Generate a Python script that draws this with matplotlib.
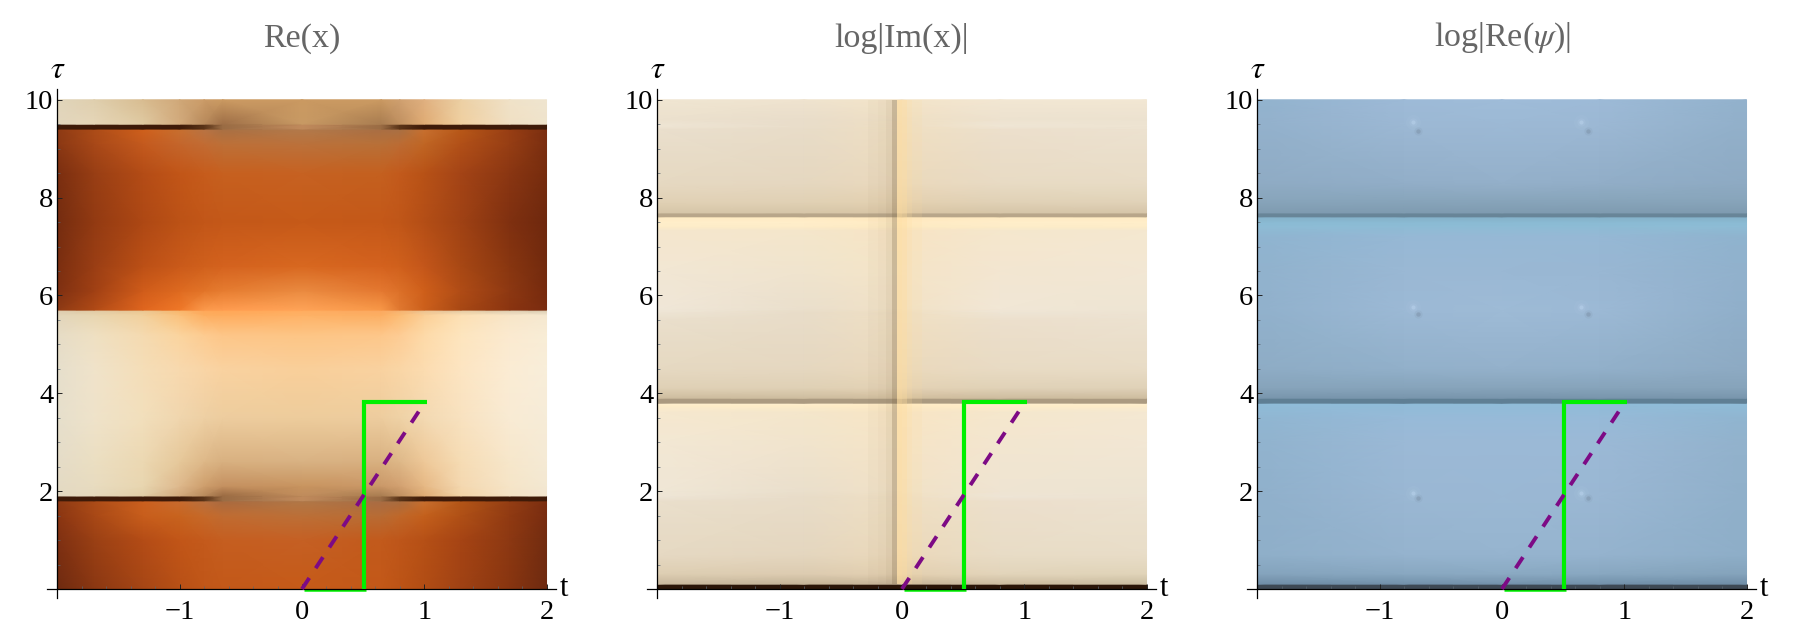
import numpy as np
import matplotlib
matplotlib.use('Agg')
from matplotlib import pyplot as plt
from matplotlib.colors import to_rgb, to_rgba

plt.rcParams['font.family'] = ['Liberation Serif', 'DejaVu Serif']
plt.rcParams['mathtext.fontset'] = 'stix'

titles = ['Re(x)', 'log|Im(x)|', r'log|Re($\psi$)|']
x_ticks = [-1, 0, 1, 2]
y_ticks = [2, 4, 6, 8, 10]

# path lines
green_t = [0.505, 0.505, 1.02]
green_tau = [0.0, 3.82, 3.82]
green_leg_t = [0.02, 0.52]
green_leg_tau = [-0.03, -0.03]
purple_t = [0.0, 1.0]
purple_tau = [0.0, 3.8]

# Re(x): colours, rows are tau, columns are t
re_x_t = [-2, -1.7, -1.3, -1, -0.8, -0.65, 0, 0.65, 0.8, 1, 1.3, 1.7, 2]
re_x_tau = [0, 1.0, 1.5, 1.795, 1.805, 1.895, 1.905, 2.1, 2.6, 3.5, 4.5, 5.2, 5.6, 5.695,
            5.705, 6.1, 6.6, 7.5, 8.5, 9.1, 9.395, 9.405, 9.495, 9.505, 10]
re_x_rows = [
    '6e2a10 8a3712 a64615 b85016 c05618 c35818 c65b18 c35818 bd5416 b24d14 a04214 883510 6e2a10',
    '7e3012 9a4014 b44c16 c25618 c45a1c c55e20 c56024 c25a1c be561a b65016 a64414 8c3812 722c10',
    '8a3512 a84816 c85e1c c8641f c66a2a c06c32 bc7038 b86c34 c0682a c4601c b05016 903a12 782c10',
    '8d3a14 ac4c18 cc601f c86c30 b87040 a86a40 b07848 a86c44 a86c40 c87030 b45618 943e14 7a2e10',
    '3e1a08 3e1a08 3e1a08 3e1a08 5a3418 9a6c44 c08a5c 9a6c44 5a3418 3e1a08 3e1a08 3e1a08 3e1a08',
    '3e1a08 3e1a08 3e1a08 3e1a08 5a3418 9a6c44 c08a5c 9a6c44 5a3418 3e1a08 3e1a08 3e1a08 3e1a08',
    'e4d9c2 e6d8bc e2cda6 d2a97c b88a5c 9a6a42 c08c5c a87c50 c09060 e0ac74 f3d4a6 f5e3c5 f3e6cf',
    'e4dac4 e8dcc0 e8d6b0 deb88c ce9e6c c49060 c8945f ca9868 d2a070 e6b884 f4d8b0 f6e5c8 f3e8d2',
    'e5dcc8 ebdfc2 ecd8b2 e6c89a deb888 d8b080 d8b283 d8b080 deb888 eec898 f6dcb4 f7e7cb f5ead5',
    'e6dfcc efe3ca f2dfbc f0d6ae eed0a4 edcd9f edcc9c edcd9f efd2a6 f3d9b2 f8e2c0 f9ebd4 f6ecd8',
    'e6dfcc f0e3ca f5deb8 f8d9ae f9d5a6 f9d2a0 f9cf9a f9d2a0 fad6a6 fcdcb0 fde5c2 fbecd4 f8eeda',
    'e6dcc6 efe0c2 f5dab0 fbd49e fdcb90 fdc688 fdc585 fdc78a fdcc94 fddaa8 fde5be fbead0 f8edd6',
    'e2d5ba e8d6b0 f2d09c fbc07a fdae60 feac5e feb266 fcae62 fcbc74 fbcf96 fde0b4 f8e6c8 f5e8d0',
    'dccaac dfc8a2 e8c490 f8b46a fea658 ffa656 ffac5e fca860 f4b070 e8c090 e0c6a0 d8c8ac d6c8ae',
    '8d3a14 b04a16 e0661f f07828 fc9a4c ff9c50 ffa458 f89848 e07830 cc601c a84814 8a3410 7a2c10',
    '7e3012 a04014 d05c1a de6a20 e27428 e67c30 ea8a40 e47830 dc7028 cf5f1a b04c16 8d3812 762a0e',
    '7a2e10 9a3e14 bc5016 ca5a1a d0601c d4621e d86820 d4621e d0601c c4561a a84814 883610 722a0e',
    '742c10 923a12 ae4814 bc5216 c25618 c45818 c65a18 c45818 c05618 b44e16 a04214 7f3010 6e280e',
    '7a2e10 983e14 b44c16 c25618 c65c1c c6601f c66222 c4601f c25a1c b85216 a44416 8a3612 762c0e',
    '8a3814 a84818 c45a1e c4662c c26c34 bd7038 bb723c b87038 bc6c34 c06624 b25018 963e14 7a2e10',
    '8d3a14 ac4c18 d0601c c87030 b87444 a87044 b27a4c a86e44 a87044 c87030 b85818 983e14 7a2e10',
    '3e1a08 3e1a08 3e1a08 3e1a08 5a3418 9a6c44 c08a5c 9a6c44 5a3418 3e1a08 3e1a08 3e1a08 3e1a08',
    '3e1a08 3e1a08 3e1a08 3e1a08 5a3418 9a6c44 c08a5c 9a6c44 5a3418 3e1a08 3e1a08 3e1a08 3e1a08',
    'e3d7be e6d6b8 e0caa2 d2aa7c b88a5c 9e6e46 c89a64 a87c50 c09060 e0ac74 f0d0a0 f0e0c4 efe4cc',
    'e0d5bb dfcfae d8bc90 d0a878 cc9c68 cb9a62 cb9a62 cb9a62 cfa070 e0b080 ecd0a4 f0e2c8 efe5d0',
]

# log|Im(x)|
im_x_t = [-2, -0.8, 0, 0.8, 2]
im_x_tau = [0, 0.098, 0.102, 0.3, 0.7, 1.8, 1.88, 2.0, 3.0, 3.62, 3.75, 3.798, 3.802, 3.898, 3.902,
            4.1, 4.5, 5.5, 5.65, 5.72, 6.5, 7.33, 7.4, 7.5, 7.605, 7.61, 7.68, 7.69, 7.9, 8.3, 9.4,
            9.46, 9.6, 10]
im_x_rows = [
    '2a1508 2a1508 2a1508 2a1508 2a1508',
    '2a1508 2a1508 2a1508 2a1508 2a1508',
    'c8b89e c4b498 c8b69a ccbca0 cabca0',
    'ddceb2 dccbb0 e4d0b0 e2d4ba e0d3b8',
    'e6d9c3 e4d6bf ecd9ba e8dcc6 e8ddc8',
    'eadfcc e8dcc8 f0dfc2 ecdfcc ece2d0',
    'eee5d6 e8dcc8 f0dfc2 eee5d6 ede3d2',
    'f0e7d6 eadfcc f2e2c6 efe4d2 ede4d2',
    'f3e8d4 f1e4cd f6e4c6 f3e6d0 f2e7d4',
    'f6e8cf f4e6cb f9e5c4 f5e7cd f4e8d2',
    'feedc9 feedc8 ffebc4 ffedc8 feedca',
    'fff0d0 fff0d0 ffedc8 fff0d0 fff0d0',
    'ab9a80 ab9a80 ab9a80 ab9a80 ab9a80',
    'ab9a80 ab9a80 ab9a80 ab9a80 ab9a80',
    'cdbc9e cdbc9e d2bf9e cdbc9e cdbc9e',
    'dfd0b5 dfd0b5 e4d2b4 e0d1b7 dfd1b7',
    'e6d9c2 e5d7c0 ebd9bc e8dbc4 e8dcc6',
    'eadfcc e8dcc8 f0dfc2 ecdfcc ece2d0',
    'eee5d5 e8dcc8 f0dfc2 eee5d5 ede3d2',
    'f0e7d8 eadfcc f2e2c6 f1e7d6 eee5d3',
    'f2e7d4 f0e4ce f5e4c7 f3e6d1 f2e7d4',
    'f4e6ce f4e6cb f8e4c4 f5e7cd f4e8d0',
    'fdecc8 fdecc8 fdeac2 fdecc8 fdecc8',
    'ffeeca ffeeca ffebc4 ffeeca ffeeca',
    'ffebc2 ffebc2 ffe8be ffebc2 ffebc2',
    'b8a68a b8a68a b8a68a b8a68a b8a68a',
    'b8a68a b8a68a b8a68a b8a68a b8a68a',
    'd6c5a8 d6c5a8 dac6a6 d6c5a8 d6c5a8',
    'e0d0b4 e0d0b4 e4d0b0 e0d1b6 e0d2b8',
    'e6d9c2 e5d7c0 ebd9bc e8dbc4 e8dcc6',
    'eadfcd e8dcc8 f0dfc2 ecdfcc ece2d0',
    'efe6d5 e9ddca f0dfc2 efe6d5 eee4d2',
    'ece1ce e9ddca f0e0c4 ede2cf ece2d0',
    'f0e6d2 efe3cf f4e4c8 f2e7d3 f2e7d3',
]
# vertical stripe laid over log|Im(x)|, flat cells between the edges
stripe_edges = [-0.28, -0.2, -0.13, -0.085, -0.038, 0.0, 0.04, 0.08, 0.16]
stripe_colors = ['#806a48', '#806a48', '#806a48', '#806a48', '#ffdc9c', '#ffdc9c', '#ffdc9c', '#ffdc9c']
stripe_alpha = [0.03, 0.06, 0.12, 0.36, 0.6, 0.5, 0.28, 0.12]

# log|Re(psi)|
re_psi_t = [-2, -0.8, 0, 0.8, 2]
re_psi_tau = [0, 0.098, 0.102, 0.3, 0.7, 1.9, 3.0, 3.5, 3.78, 3.798, 3.802, 3.898, 3.902, 4.1, 4.5,
              5.7, 6.5, 7.2, 7.42, 7.5, 7.605, 7.61, 7.68, 7.69, 7.95, 8.3, 9.5, 10]
re_psi_rows = [
    '3e4954 3e4954 3e4954 3e4954 3e4954',
    '3e4954 3e4954 3e4954 3e4954 3e4954',
    '6f8da6 7290a9 7391aa 7290a9 6f8da6',
    '84a3bc 88a7c0 8aa9c2 88a7c0 84a3bb',
    '8fafc9 95b3ce 96b4cf 95b3ce 8eaec8',
    '90b0cb 9ab7d3 9ab8d4 9ab7d3 90b0ca',
    '91b3ce 9bb9d6 9bb9d6 9bb9d6 92b2cc',
    '90b6d2 97bad8 97bad8 97bad8 90b5d0',
    '8fbcd8 90bcd8 90bcd8 90bcd8 8fbcd8',
    '8ebcd8 8ebcd8 8ebcd8 8ebcd8 8ebcd8',
    '5f7f94 5f7f94 5f7f94 5f7f94 5f7f94',
    '5f7f94 5f7f94 5f7f94 5f7f94 5f7f94',
    '7895ac 7895ac 7895ac 7895ac 7895ac',
    '86a3ba 86a3ba 86a3ba 86a3ba 86a3ba',
    '8eacc5 92b0ca 94b1cb 92b0ca 8daac3',
    '91b1cc 9cb9d5 9ebbd6 9cb9d5 90afca',
    '91b2cd 9ab8d4 9ab8d4 99b7d3 91b1cc',
    '8fb4d0 96b8d5 96b8d5 96b8d5 8fb3ce',
    '8dbcd5 8dbcd5 8dbcd5 8dbcd5 8dbcd5',
    '8abad3 8abad3 8abad3 8abad3 8abad3',
    '84b0c8 84b0c8 84b0c8 84b0c8 84b0c8',
    '688598 688598 688598 688598 688598',
    '688598 688598 688598 688598 688598',
    '7f9bb0 7f9bb0 7f9bb0 7f9bb0 7f9bb0',
    '88a5bb 88a5bb 88a5bb 88a5bb 88a5bb',
    '8fabc4 92aec8 94b0ca 92aec8 8eaac3',
    '93b1cc 9cb8d4 9cb9d5 9cb8d4 92b0ca',
    '92b3ce 9dbad7 9fbcd9 9dbad7 92b1cc',
]
# small light / dark dimples in log|Re(psi)|
light_t = [-0.73, 0.65, -0.73, 0.65, -0.73, 0.65]
light_tau = [1.96, 1.96, 5.77, 5.77, 9.55, 9.55]
dark_t = [-0.69, 0.70, -0.69, 0.70, -0.69, 0.70]
dark_tau = [1.86, 1.86, 5.62, 5.62, 9.37, 9.37]

panel_lefts = [57.4, 657.4, 1257.4]
W, H = 1800, 643


def hex_grid(rows):
    return np.array([[to_rgb('#' + c) for c in r.split()] for r in rows])


def draw_axes(ax, title):
    ax.set_xlim(-2.088, 2.075)
    ax.set_ylim(-0.184, 10.22)
    ax.patch.set_visible(False)
    ax.spines['top'].set_visible(False)
    ax.spines['right'].set_visible(False)
    ax.spines['left'].set_position(('data', -2))
    ax.spines['bottom'].set_position(('data', 0))
    ax.spines['left'].set_linewidth(0.9)
    ax.spines['bottom'].set_linewidth(0.9)
    ax.set_xticks(x_ticks)
    ax.set_xticklabels(['\u2212' + str(abs(v)) if v < 0 else str(v) for v in x_ticks])
    ax.set_yticks(y_ticks)
    ax.set_xticks(np.arange(-1.8, 2.01, 0.2), minor=True)
    ax.set_yticks(np.arange(0.5, 10, 0.5), minor=True)
    ax.tick_params(which='major', direction='in', length=3.4, width=0.7, labelsize=20.5, pad=3, color='#222222')
    ax.tick_params(which='minor', direction='in', length=2, width=0.5, color='#5a6670')
    ax.tick_params(axis='x', which='major', pad=8)
    ax.text(-2, 10.6, r'$\tau$', ha='center', va='center', fontsize=23)
    ax.text(2.145, 0.0, 't', ha='center', va='center', fontsize=22)
    ax.text(0, 11.26, title, ha='center', va='center', fontsize=24.5, color='#666666')
    ax.plot(green_t, green_tau, color='#00f000', lw=3.0, solid_capstyle='butt', solid_joinstyle='miter', zorder=4)
    ax.plot(green_leg_t, green_leg_tau, color='#00f000', lw=1.8, solid_capstyle='butt', zorder=1.5, clip_on=False)
    ax.plot(purple_t, purple_tau, color='#7d0a85', lw=2.8, dashes=(3.4, 3.0), dash_capstyle='butt', zorder=5)


fig = plt.figure(figsize=(18, 6.43), dpi=100)
axes = []
for left in panel_lefts:
    axes.append(fig.add_axes([(left - 10.7) / W, (H - 598) / H, 509.0 / W, 509.0 / H]))

ax1, ax2, ax3 = axes

tt, uu = np.meshgrid(re_x_t, re_x_tau)
ax1.pcolormesh(tt, uu, hex_grid(re_x_rows), shading='gouraud', zorder=1)

tt, uu = np.meshgrid(im_x_t, im_x_tau)
ax2.pcolormesh(tt, uu, hex_grid(im_x_rows), shading='gouraud', zorder=1)
stripe = np.array([[to_rgba(c, a) for c, a in zip(stripe_colors, stripe_alpha)]])
ax2.pcolormesh(stripe_edges, [0.1, 10], stripe, shading='flat', zorder=1.2)

tt, uu = np.meshgrid(re_psi_t, re_psi_tau)
ax3.pcolormesh(tt, uu, hex_grid(re_psi_rows), shading='gouraud', zorder=1)
for s, a in [(120, 0.08), (36, 0.16), (9, 0.55)]:
    ax3.scatter(light_t, light_tau, s=s, color='#b8d2ec', alpha=a, linewidths=0, zorder=1.3)
for s, a in [(36, 0.12), (10, 0.4)]:
    ax3.scatter(dark_t, dark_tau, s=s, color='#76899e', alpha=a, linewidths=0, zorder=1.3)

for ax, title in zip(axes, titles):
    draw_axes(ax, title)

fig.savefig('out.png', dpi=100)
